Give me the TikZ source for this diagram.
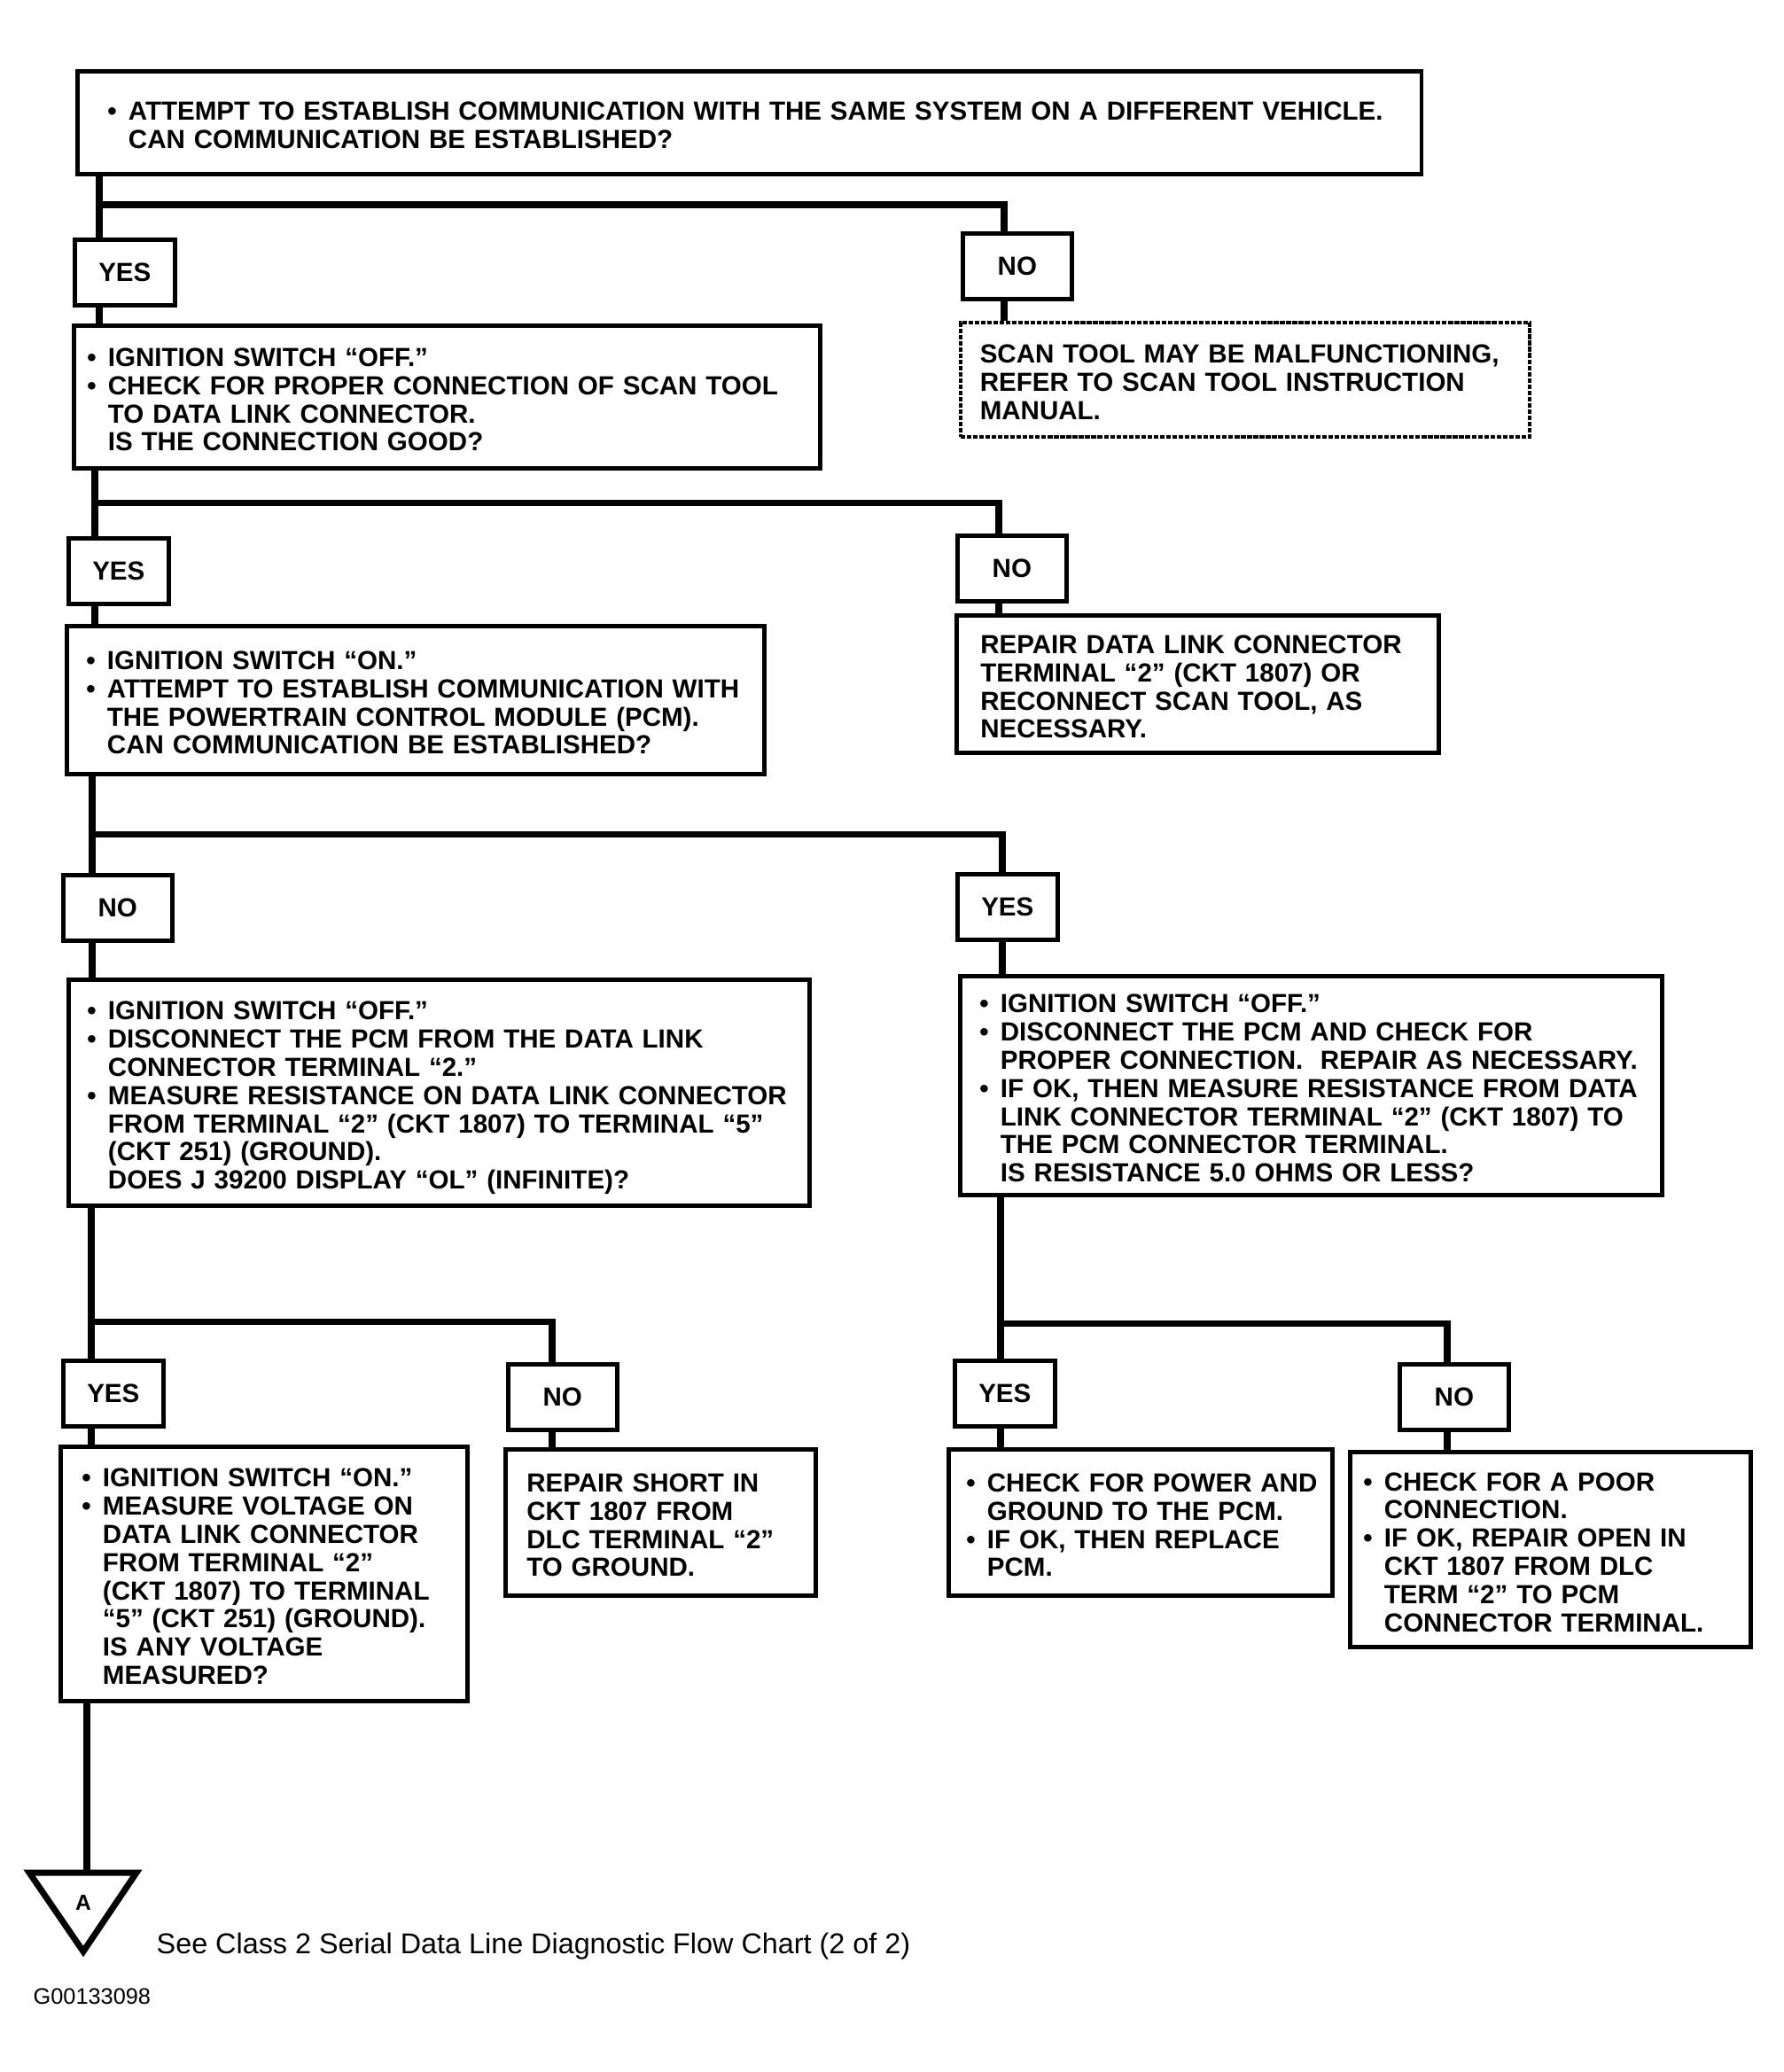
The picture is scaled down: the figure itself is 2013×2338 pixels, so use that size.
\documentclass[tikz,border=0pt]{standalone}
\usepackage{fontspec}
\setmainfont{Liberation Sans}
\newcommand{\chartfont}{\fontsize{8.4}{9.05}\selectfont\bfseries}
\newcommand{\bul}{\makebox[0.8em][l]{\textbullet}}
\newcommand{\ind}{\hspace*{0.8em}}
\newcommand{\boxlines}[1]{\begin{tabular}{@{}l@{}}\rule{0pt}{10.3pt}#1\end{tabular}}
\begin{document}
\begin{tikzpicture}[x=0.01cm,y=-0.01cm,
    box/.style={draw,line width=1.3pt,anchor=north west,align=left,inner ysep=0pt,font=\chartfont},
    scanbox/.style={box,line width=1pt,dash pattern=on 1.5pt off 0.5pt},
    yesbox/.style={draw,line width=1.3pt,anchor=north west,minimum width=1.13cm,minimum height=0.74cm,inner sep=0pt,font=\chartfont},
    nobox/.style={yesbox,minimum width=1.23cm},
    flow/.style={line width=2pt}]
\useasboundingbox (0,0) rectangle (2013,2338);

% first question
\node[box,inner xsep=0.34cm,text width=14.48cm,minimum height=1.16cm] (top) at (85,78)
  {\boxlines{\bul ATTEMPT TO ESTABLISH COMMUNICATION WITH THE SAME SYSTEM ON A DIFFERENT VEHICLE.\\
   \ind CAN COMMUNICATION BE ESTABLISHED?}};
\node[yesbox] (yesA) at (82,268) {YES};
\node[nobox] (noA) at (1084,261) {NO};
\node[box,inner xsep=0.15cm,text width=8.12cm,minimum height=1.61cm] (conn) at (81,365)
  {\boxlines{\bul IGNITION SWITCH “OFF.”\\
   \bul CHECK FOR PROPER CONNECTION OF SCAN TOOL\\
   \ind TO DATA LINK CONNECTOR.\\
   \ind IS THE CONNECTION GOOD?}};
\node[scanbox,inner xsep=0.22cm,text width=5.98cm,minimum height=1.29cm] (scan) at (1082,362)
  {\boxlines{SCAN TOOL MAY BE MALFUNCTIONING,\\
   REFER TO SCAN TOOL INSTRUCTION\\
   MANUAL.}};

% connection good
\node[yesbox] (yesB) at (75,605) {YES};
\node[nobox] (noB) at (1078,602) {NO};
\node[box,inner xsep=0.22cm,text width=7.43cm,minimum height=1.67cm] (pcm) at (73,704)
  {\boxlines{\bul IGNITION SWITCH “ON.”\\
   \bul ATTEMPT TO ESTABLISH COMMUNICATION WITH\\
   \ind THE POWERTRAIN CONTROL MODULE (PCM).\\
   \ind CAN COMMUNICATION BE ESTABLISHED?}};
\node[box,inner xsep=0.27cm,text width=4.90cm,minimum height=1.55cm] (repair) at (1077,692)
  {\boxlines{REPAIR DATA LINK CONNECTOR\\
   TERMINAL “2” (CKT 1807) OR\\
   RECONNECT SCAN TOOL, AS\\
   NECESSARY.}};

% communication with pcm
\node[nobox] (noC) at (69,985) {NO};
\node[yesbox] (yesC) at (1078,984) {YES};
\node[box,inner xsep=0.21cm,text width=7.94cm,minimum height=2.55cm] (ol) at (75,1103)
  {\boxlines{\bul IGNITION SWITCH “OFF.”\\
   \bul DISCONNECT THE PCM FROM THE DATA LINK\\
   \ind CONNECTOR TERMINAL “2.”\\
   \bul MEASURE RESISTANCE ON DATA LINK CONNECTOR\\
   \ind FROM TERMINAL “2” (CKT 1807) TO TERMINAL “5”\\
   \ind (CKT 251) (GROUND).\\
   \ind DOES J 39200 DISPLAY “OL” (INFINITE)?}};
\node[box,inner xsep=0.22cm,text width=7.48cm,minimum height=2.47cm] (ohms) at (1081,1099)
  {\boxlines{\bul IGNITION SWITCH “OFF.”\\
   \bul DISCONNECT THE PCM AND CHECK FOR\\
   \ind PROPER CONNECTION.\ \ REPAIR AS NECESSARY.\\
   \bul IF OK, THEN MEASURE RESISTANCE FROM DATA\\
   \ind LINK CONNECTOR TERMINAL “2” (CKT 1807) TO\\
   \ind THE PCM CONNECTOR TERMINAL.\\
   \ind IS RESISTANCE 5.0 OHMS OR LESS?}};

% last answers
\node[yesbox] (yesD) at (69,1533) {YES};
\node[nobox] (noD) at (571,1537) {NO};
\node[yesbox] (yesE) at (1075,1533) {YES};
\node[nobox] (noE) at (1577,1537) {NO};
\node[box,inner xsep=0.24cm,text width=4.11cm,minimum height=2.87cm] (volt) at (66,1630)
  {\boxlines{\bul IGNITION SWITCH “ON.”\\
   \bul MEASURE VOLTAGE ON\\
   \ind DATA LINK CONNECTOR\\
   \ind FROM TERMINAL “2”\\
   \ind (CKT 1807) TO TERMINAL\\
   \ind “5” (CKT 251) (GROUND).\\
   \ind IS ANY VOLTAGE\\
   \ind MEASURED?}};
\node[box,inner xsep=0.24cm,text width=3.02cm,minimum height=1.65cm] (short) at (568,1633)
  {\boxlines{REPAIR SHORT IN\\
   CKT 1807 FROM\\
   DLC TERMINAL “2”\\
   TO GROUND.}};
\node[box,inner xsep=0.2cm,text width=3.93cm,minimum height=1.65cm] (power) at (1068,1633)
  {\boxlines{\bul CHECK FOR POWER AND\\
   \ind GROUND TO THE PCM.\\
   \bul IF OK, THEN REPLACE\\
   \ind PCM.}};
\node[box,inner xsep=0.15cm,text width=4.22cm,minimum height=2.20cm] (open) at (1521,1636)
  {\boxlines{\bul CHECK FOR A POOR\\
   \ind CONNECTION.\\
   \bul IF OK, REPAIR OPEN IN\\
   \ind CKT 1807 FROM DLC\\
   \ind TERM “2” TO PCM\\
   \ind CONNECTOR TERMINAL.}};

% rails
\coordinate (j1) at (112,231);
\coordinate (k1) at (1133,231);
\coordinate (j2) at (107,567);
\coordinate (k2) at (1127,567);
\coordinate (j3) at (104,941);
\coordinate (k3) at (1131,941);
\coordinate (j4) at (103,1491);
\coordinate (k4) at (623,1491);
\coordinate (j5) at (1129,1493);
\coordinate (k5) at (1633,1493);
\coordinate (tri) at (98,2113);

\draw[flow] (top.south -| j1) -- (yesA.north -| j1);
\draw[flow] (j1) -| (noA.north -| k1);
\draw[flow] (yesA.south -| j1) -- (conn.north -| j1);
\draw[flow] (noA.south -| k1) -- (scan.north -| k1);
\draw[flow] (conn.south -| j2) -- (yesB.north -| j2);
\draw[flow] (j2) -| (noB.north -| k2);
\draw[flow] (yesB.south -| j2) -- (pcm.north -| j2);
\draw[flow] (noB.south -| k2) -- (repair.north -| k2);
\draw[flow] (pcm.south -| j3) -- (noC.north -| j3);
\draw[flow] (j3) -| (yesC.north -| k3);
\draw[flow] (noC.south -| j3) -- (ol.north -| j3);
\draw[flow] (yesC.south -| k3) -- (ohms.north -| k3);
\draw[flow] (ol.south -| j4) -- (yesD.north -| j4);
\draw[flow] (j4) -| (noD.north -| k4);
\draw[flow] (yesD.south -| j4) -- (volt.north -| j4);
\draw[flow] (noD.south -| k4) -- (short.north -| k4);
\draw[flow] (ohms.south -| j5) -- (yesE.north -| j5);
\draw[flow] (j5) -| (noE.north -| k5);
\draw[flow] (yesE.south -| j5) -- (power.north -| j5);
\draw[flow] (noE.south -| k5) -- (open.north -| k5);
\draw[flow] (volt.south -| tri) -- (tri);

% off-page connector
\draw[flow,line join=miter] (33,2113) -- (154,2113) -- (94,2202) -- cycle;
\node[font=\fontsize{7}{8}\selectfont\bfseries] (markA) at (94,2147) {A};
\node[anchor=west,inner sep=0pt,font=\fontsize{9.2}{11}\selectfont] (seenote) at (176,2196)
  {See Class 2 Serial Data Line Diagnostic Flow Chart (2 of 2)};
\node[anchor=west,inner sep=0pt,font=\fontsize{7.2}{8}\selectfont] (gnum) at (37,2253) {G00133098};
\end{tikzpicture}
\end{document}
